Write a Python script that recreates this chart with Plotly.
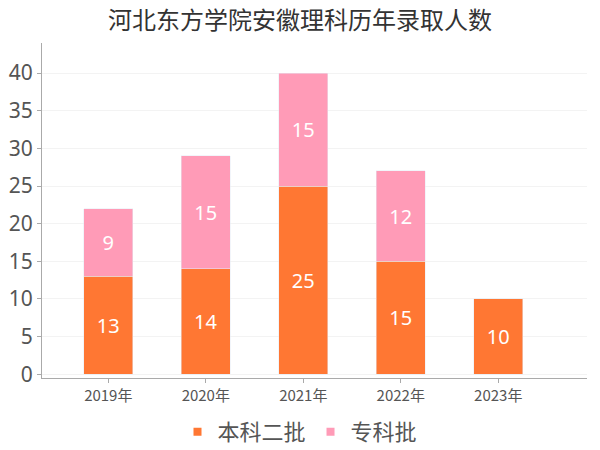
import plotly.graph_objects as go

years = ["2019年", "2020年", "2021年", "2022年", "2023年"]
benke = [13, 14, 25, 15, 10]
zhuanke = [9, 15, 15, 12, None]

names = ["本科二批", "专科批"]
colors = ["#FF7733", "#FF9BB7"]

pos = list(range(len(years)))
font = "Noto Sans CJK SC, Noto Sans, sans-serif"
numfont = "Noto Sans, sans-serif"

fig = go.Figure()
for vals, name, col in zip([benke, zhuanke], names, colors):
    fig.add_trace(go.Bar(
        x=pos, y=vals, name=name, marker_color=col, showlegend=False,
        width=0.5, text=vals, textposition="inside", insidetextanchor="middle",
        textfont=dict(color="white", size=20, family=numfont),
        hoverinfo="x+y+name",
    ))
# legend entries with small square markers
for name, col in zip(names, colors):
    fig.add_trace(go.Scatter(
        x=[None], y=[None], mode="markers", name=name,
        marker=dict(symbol="square", size=8, color=col),
    ))

fig.update_layout(
    barmode="stack",
    width=600, height=450,
    margin=dict(l=42, r=13, t=43, b=72),
    paper_bgcolor="white", plot_bgcolor="white",
    font=dict(family=font, color="#555555"),
    title=dict(text="河北东方学院安徽理科历年录取人数", x=0.5, xanchor="center",
               y=0.955, yanchor="middle", font=dict(size=24, color="#333333")),
    showlegend=True,
    legend=dict(orientation="h", x=0.5, xanchor="center", xref="container",
                y=0.04, yanchor="middle", yref="container",
                font=dict(size=22, color="#555555"), traceorder="normal",
                itemwidth=30, tracegroupgap=0),
    xaxis=dict(tickvals=pos, ticktext=years, range=[-0.68, 4.91],
               showline=True, linecolor="#aaaaaa", linewidth=1,
               ticks="outside", ticklen=4, tickcolor="#aaaaaa", automargin=False,
               tickfont=dict(size=15, color="#555555"), showgrid=False, zeroline=False),
    yaxis=dict(range=[-0.5, 44], tickvals=[0, 5, 10, 15, 20, 25, 30, 35, 40],
               showline=True, linecolor="#aaaaaa", linewidth=1,
               ticks="outside", ticklen=4, tickcolor="#aaaaaa", automargin=False,
               tickfont=dict(size=21, color="#555555", family=numfont),
               showgrid=True, gridcolor="#f3f3f3", zeroline=False),
)

fig.write_html("out.html", config={"displayModeBar": False},
               post_script="document.body.style.margin='0';")
